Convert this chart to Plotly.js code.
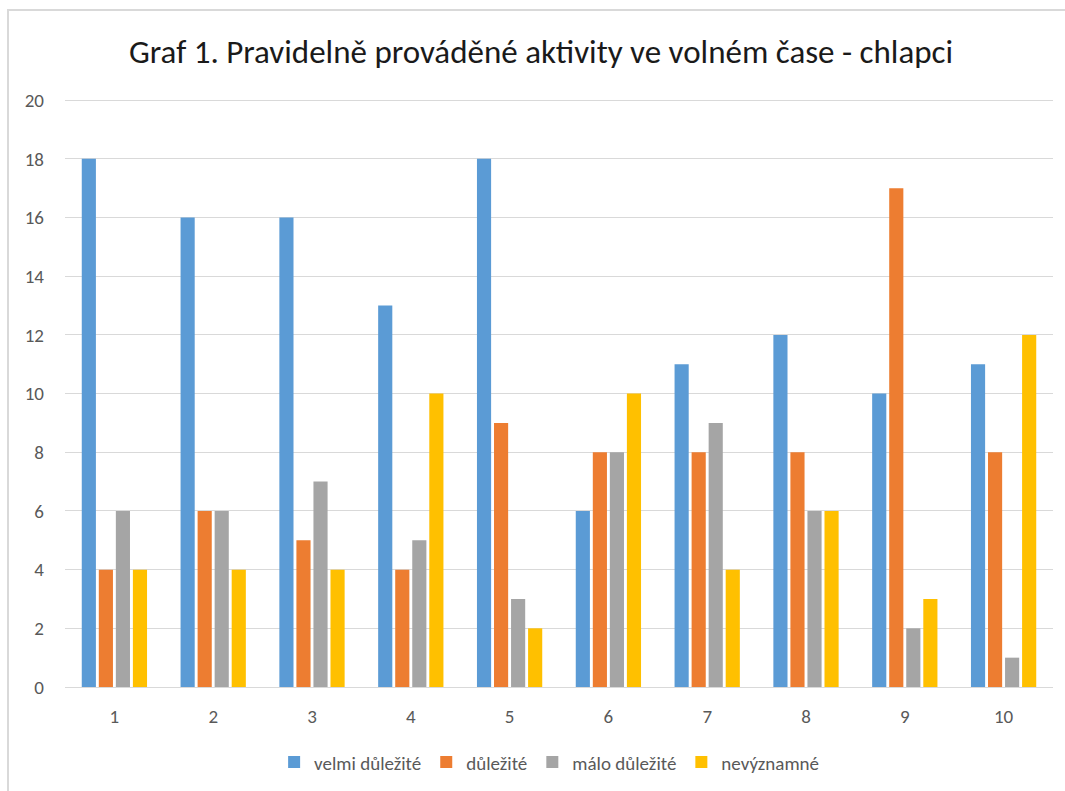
<!DOCTYPE html>
<html>
<head>
<meta charset="utf-8">
<script src="https://cdn.plot.ly/plotly-3.0.1.min.js"></script>
<style>
  html, body { margin: 0; padding: 0; background: #fff; }
  #frame {
    position: absolute; left: 7px; top: 9px;
    width: 1058px; height: 782px;
    border-top: 2px solid #d9d9d9; border-left: 2px solid #d9d9d9;
    box-sizing: border-box;
  }
  #chart { position: absolute; left: -9px; top: -11px; width: 1065px; height: 791px; }
</style>
</head>
<body>
<div id="frame"><div id="chart"></div></div>
<script>
// Activities 1–10 and the number of boys giving each rating
const categories = ['1', '2', '3', '4', '5', '6', '7', '8', '9', '10'];
const velmiDulezite = [18, 16, 16, 13, 18, 6, 11, 12, 10, 11];
const dulezite      = [4, 6, 5, 4, 9, 8, 8, 8, 17, 8];
const maloDulezite  = [6, 6, 7, 5, 3, 8, 9, 6, 2, 1];
const nevyznamne    = [4, 4, 4, 10, 2, 10, 4, 6, 3, 12];
const seriesNames = ['velmi důležité', 'důležité', 'málo důležité', 'nevýznamné'];
const yTicks = [0, 2, 4, 6, 8, 10, 12, 14, 16, 18, 20];

const colors = ['#5b9bd5', '#ed7d31', '#a5a5a5', '#ffc000'];
const seriesValues = [velmiDulezite, dulezite, maloDulezite, nevyznamne];

const traces = seriesValues.map((vals, i) => ({
  type: 'bar',
  name: seriesNames[i],
  x: categories,
  y: vals,
  marker: { color: colors[i], line: { width: 0 } },
  hoverinfo: 'x+y+name'
}));

const font = 'Carlito, "Liberation Sans Narrow", "Open Sans", sans-serif';

const layout = {
  width: 1065,
  height: 791,
  paper_bgcolor: 'rgba(0,0,0,0)',
  plot_bgcolor: 'rgba(0,0,0,0)',
  font: { family: font, color: '#595959', size: 18 },
  title: {
    text: 'Graf 1. Pravidelně prováděné aktivity ve volném čase - chlapci',
    font: { family: font, size: 33, color: '#1a1a1a' },
    x: 0.508, xanchor: 'center',
    y: 0.935, yanchor: 'middle'
  },
  margin: { l: 65, r: 12, t: 99, b: 104, autoexpand: false },
  barmode: 'group',
  bargap: 0.31,
  bargroupgap: 0.17,
  xaxis: {
    type: 'category',
    showgrid: false,
    showline: false,
    zeroline: false,
    ticks: '',
    ticklen: 0,
    ticklabelstandoff: 16,
    tickfont: { size: 19, color: '#595959' },
    automargin: false
  },
  yaxis: {
    range: [0, 20.04],
    tickvals: yTicks,
    ticktext: yTicks.map(String),
    showgrid: true,
    gridcolor: '#d9d9d9',
    gridwidth: 1,
    zeroline: true,
    zerolinecolor: '#d9d9d9',
    zerolinewidth: 1,
    showline: false,
    ticks: '',
    ticklabelstandoff: 20,
    tickfont: { size: 19, color: '#595959' },
    automargin: false
  },
  legend: {
    orientation: 'h',
    x: 0.49, xanchor: 'center',
    y: -0.128, yanchor: 'middle',
    font: { size: 19, color: '#595959' },
    itemwidth: 30,
    traceorder: 'normal'
  },
  showlegend: true
};

Plotly.newPlot('chart', traces, layout, { displayModeBar: false, staticPlot: true });
</script>
</body>
</html>
